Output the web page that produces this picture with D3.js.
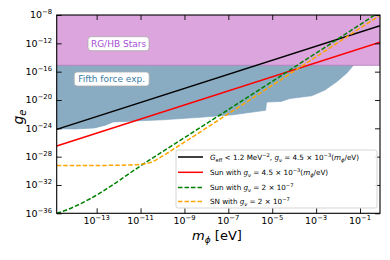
<!DOCTYPE html>
<html><head><meta charset="utf-8">
<script src="https://cdn.jsdelivr.net/npm/d3@7"></script>
<style>html,body{margin:0;padding:0;background:#fff}svg{display:block;font-family:"DejaVu Sans",sans-serif}</style>
</head><body><svg id="c" width="390" height="260"></svg>
<script>
// ---- data (log10 values) ----
const xTickExps = [-13, -11, -9, -7, -5, -3, -1];
const yTickExps = [-8, -12, -16, -20, -24, -28, -32, -36];

// G_eff line (black)
const blackMassExp = [-14.82, -0.09];
const blackGExp    = [-24.15, -9.5];
// Sun, g_nu ∝ m (red)
const redMassExp = [-14.82, -0.09];
const redGExp    = [-26.5, -11.86];
// Sun with g_nu = 2e-7 (green dashed)
const greenMassExp = [-14.82, -14.3, -13.8, -13.3, -12.8, -12.3, -11.8, -11.0, -10.0, -8.0, -0.2];
const greenGExp    = [-36.0, -35.45, -34.75, -33.95, -33.05, -32.05, -31.0, -29.3, -27.3, -23.35, -7.75];
// SN with g_nu = 2e-7 (orange dashed)
const orangeMassExp = [-14.82, -12.8, -12.3, -11.8, -11.4, -11.0, -10.6, -10.2, -9.8, -9.4, -9.0, -8.5, -8.0, -0.1];
const orangeGExp    = [-29.25, -29.25, -29.22, -29.2, -29.17, -29.08, -28.88, -28.3, -27.55, -26.75, -25.95, -24.95, -23.95, -8.05];
// Fifth force lower boundary (blue)
const fifthMassExp = [-14.82, -14.0, -13.1, -12.6, -12.25, -11.5, -10.0, -8.3, -6.8, -5.3, -5.26, -4.6, -4.2, -3.2, -2.6, -2.05, -1.6, -1.3];
const fifthGExp    = [-24.05, -24.1, -23.95, -23.55, -23.1, -23.0, -22.8, -22.45, -22.1, -21.45, -20.3, -20.2, -19.8, -19.4, -18.6, -17.4, -16.2, -15.1];
// RG/HB band
const rgTopExp = -8, rgBottomExp = -15.1;

const legendItems = [
  {color:"#000000", dash:null, parts:[["G","i"],["eff","sub"],[" < 1.2 MeV",""],["−2","sup"],[", ",""],["g","i"],["ν","isub"],[" = 4.5 × 10",""],["−3","sup"],["(",""],["m","i"],["ϕ","isub"],["/eV)",""]]},
  {color:"#ff0000", dash:null, parts:[["Sun with ",""],["g","i"],["ν","isub"],[" = 4.5 × 10",""],["−3","sup"],["(",""],["m","i"],["ϕ","isub"],["/eV)",""]]},
  {color:"#008000", dash:"4.5,2", parts:[["Sun with ",""],["g","i"],["ν","isub"],[" = 2 × 10",""],["−7","sup"]]},
  {color:"#ffa500", dash:"4.5,2", parts:[["SN with ",""],["g","i"],["ν","isub"],[" = 2 × 10",""],["−7","sup"]]}
];

// ---- layout ----
const L = 56.7, R = 380, T = 15, B = 213.3;
const p10 = e => Math.pow(10, e);
const x = d3.scaleLog().domain([p10(-14.82), p10(-0.09)]).range([L, R]);
const y = d3.scaleLog().domain([1e-36, 1e-8]).range([B, T]);
const svg = d3.select("#c");

svg.append("defs").append("clipPath").attr("id","clip")
  .append("rect").attr("x",L).attr("y",T).attr("width",R-L).attr("height",B-T);
const plot = svg.append("g").attr("clip-path","url(#clip)");

// fifth force region
const fifthPts = fifthMassExp.map((m,i)=>[p10(m), p10(fifthGExp[i])]);
const poly = fifthPts.concat([[p10(fifthMassExp[0]), p10(rgBottomExp)]]);
plot.append("path")
  .attr("d", d3.line().x(d=>x(d[0])).y(d=>y(d[1]))(poly) + "Z")
  .attr("fill","#8aacc3").attr("stroke","#7aa0ba").attr("stroke-width",0.6);

// RG/HB band
plot.append("rect").attr("x",L).attr("width",R-L)
  .attr("y",y(p10(rgTopExp))).attr("height",y(p10(rgBottomExp))-y(p10(rgTopExp)))
  .attr("fill","#dca5dd");
plot.append("line").attr("x1",L).attr("x2",R)
  .attr("y1",y(p10(rgBottomExp))).attr("y2",y(p10(rgBottomExp)))
  .attr("stroke","#b07cba").attr("stroke-width",0.8);

const lineGen = d3.line().x(d=>x(d[0])).y(d=>y(d[1])).curve(d3.curveMonotoneX);
function drawLine(ms, gs, color, w, dash){
  const pts = ms.map((m,i)=>[p10(m), p10(gs[i])]);
  const p = plot.append("path").attr("d", lineGen(pts))
    .attr("fill","none").attr("stroke",color).attr("stroke-width",w);
  if (dash) p.attr("stroke-dasharray",dash);
}
drawLine(blackMassExp, blackGExp, "#000", 1.5, null);
drawLine(redMassExp, redGExp, "#ff0000", 1.5, null);
drawLine(greenMassExp, greenGExp, "#008000", 1.5, "4.5,2");
drawLine(orangeMassExp, orangeGExp, "#ffa500", 1.5, "4.5,2");

// axes (ticks inside, all four sides)
const xt = xTickExps.map(p10), yt = yTickExps.map(p10);
const ax = (g, a) => { g.call(a); g.selectAll("text").remove(); g.select(".domain").remove(); g.selectAll("line").attr("stroke","#000").attr("stroke-width",0.9); };
svg.append("g").attr("transform",`translate(0,${B})`).call(g=>ax(g, d3.axisBottom(x).tickValues(xt).tickSize(-5)));
svg.append("g").attr("transform",`translate(0,${T})`).call(g=>ax(g, d3.axisTop(x).tickValues(xt).tickSize(-5)));
svg.append("g").attr("transform",`translate(${L},0)`).call(g=>ax(g, d3.axisLeft(y).tickValues(yt).tickSize(-5)));
svg.append("g").attr("transform",`translate(${R},0)`).call(g=>ax(g, d3.axisRight(y).tickValues(yt).tickSize(-5)));
svg.append("rect").attr("x",L).attr("y",T).attr("width",R-L).attr("height",B-T)
  .attr("fill","none").attr("stroke","#000").attr("stroke-width",1.1);

// tick labels
xTickExps.forEach(e=>{
  const t = svg.append("text").attr("x", x(p10(e))).attr("y", 223.5).attr("text-anchor","middle").attr("font-size",9.5).attr("fill","#000");
  t.append("tspan").text("10");
  t.append("tspan").attr("dy",-4).attr("font-size",6.8).text("−"+Math.abs(e));
});
yTickExps.forEach(e=>{
  const t = svg.append("text").attr("x", 52).attr("y", y(p10(e))+3.3).attr("text-anchor","end").attr("font-size",9.5).attr("fill","#000");
  t.append("tspan").text("10");
  t.append("tspan").attr("dy",-4).attr("font-size",6.8).text("−"+Math.abs(e));
});

// axis titles
const yl = svg.append("text").attr("transform","translate(23,117) rotate(-90)").attr("text-anchor","middle").attr("font-size",14);
yl.append("tspan").attr("font-style","italic").text("g");
yl.append("tspan").attr("dy",3).attr("font-size",10).attr("font-style","italic").text("e");
const xl = svg.append("text").attr("x",217).attr("y",240).attr("text-anchor","middle").attr("font-size",13);
xl.append("tspan").attr("font-style","italic").text("m");
xl.append("tspan").attr("dy",3).attr("font-size",9).attr("font-style","italic").text("ϕ");
xl.append("tspan").attr("dy",-3).text(" [eV]");

// region labels
function labelBox(cx, cy, w, h, txt, color){
  svg.append("rect").attr("x",cx-w/2).attr("y",cy-h/2).attr("width",w).attr("height",h).attr("rx",3)
    .attr("fill","#fff").attr("stroke","#aaa").attr("stroke-width",0.8);
  svg.append("text").attr("x",cx).attr("y",cy+3.2).attr("text-anchor","middle").attr("font-size",9).attr("fill",color).text(txt);
}
labelBox(118.5, 43.7, 61, 14, "RG/HB Stars", "#a64fd6");
labelBox(111.7, 79, 75, 14, "Fifth force exp.", "#3a7ca5");

// legend
const lg = svg.append("g");
lg.append("rect").attr("x",176).attr("y",150).attr("width",201).attr("height",58).attr("rx",2)
  .attr("fill","#fff").attr("fill-opacity",0.85).attr("stroke","#ccc").attr("stroke-width",0.8);
const rowY = [157, 172.3, 187.5, 201.5];
function rich(t, parts, base){
  let off = 0;
  parts.forEach(([s,k])=>{
    let target = 0, fs = base, it = false;
    if (k==="sub"||k==="isub"){ target = 2; fs = base*0.72; }
    if (k==="sup"){ target = -3; fs = base*0.72; }
    if (k==="i"||k==="isub") it = true;
    const sp = t.append("tspan").attr("dy", target-off).attr("font-size",fs).text(s);
    if (it) sp.attr("font-style","italic");
    off = target;
  });
}
legendItems.forEach((d,i)=>{
  const yy = rowY[i];
  const ln = lg.append("line").attr("x1",178).attr("x2",203).attr("y1",yy).attr("y2",yy)
    .attr("stroke",d.color).attr("stroke-width", 1.5);
  if (d.dash) ln.attr("stroke-dasharray", d.dash);
  const t = lg.append("text").attr("x",210).attr("y",yy+2.5).attr("font-size",7.2).attr("fill","#000");
  rich(t, d.parts, 7.2);
});
</script></body></html>
